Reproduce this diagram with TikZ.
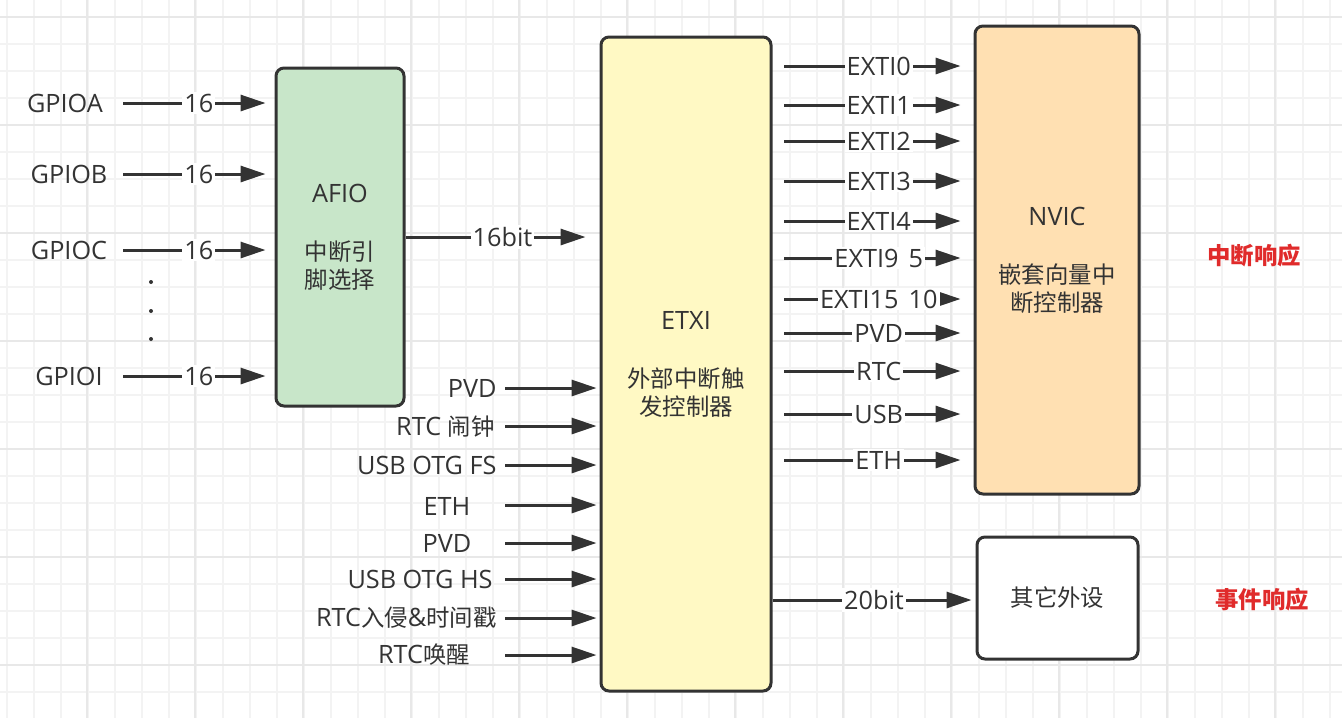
\documentclass[tikz,border=0pt]{standalone}
\usepackage{fontspec}
\setmainfont{Open Sans}[Scale=1.08]
\newfontfamily\cjk{Noto Sans CJK SC}
\usetikzlibrary{arrows.meta, positioning, calc}
\definecolor{gridminor}{RGB}{243,243,243}
\definecolor{gridmajor}{RGB}{232,232,232}
\definecolor{inkgray}{RGB}{51,51,51}
\definecolor{afiogreen}{RGB}{200,230,201}
\definecolor{extiyellow}{RGB}{255,249,196}
\definecolor{nvicorange}{RGB}{255,224,178}
\definecolor{respred}{RGB}{224,43,43}

\begin{document}
\begin{tikzpicture}[x=0.5pt, y=-0.5pt, inkgray,
    font=\fontsize{11.7}{14}\selectfont,
    box/.style={draw=inkgray, line width=1.5pt, rounded corners=4pt,
                align=center, inner sep=0pt},
    sig/.style={draw=inkgray, line width=1.5pt,
                -{Triangle[length=12.5pt, width=8pt]}},
    lbl/.style={fill=white, inner sep=1pt},
    txt/.style={inner sep=0pt}]
  % background grid
  \fill[white] (0,0) rectangle (1342,718);
  \useasboundingbox (0,0) rectangle (1342,718);
  \foreach \gx in {0,...,49}
    \draw[gridminor, line width=0.9pt] ({6.7+27*\gx},0) -- ++(0,718);
  \foreach \gy in {0,...,25}
    \draw[gridminor, line width=0.9pt] (0,{17+27*\gy}) -- ++(1342,0);
  \foreach \gx in {0,...,11}
    \draw[gridmajor, line width=0.9pt] ({87+108*\gx},0) -- ++(0,718);
  \foreach \gy in {0,...,6}
    \draw[gridmajor, line width=0.9pt] (0,{17+108*\gy}) -- ++(1342,0);

  % blocks
  \node[box, fill=afiogreen, minimum width=64pt, minimum height=169pt]
    (afio) at (340,237) {AFIO\\[15pt]{\cjk 中断引}\\{\cjk 脚选择}};
  \node[box, fill=extiyellow, minimum width=85pt, minimum height=327pt]
    (etxi) at (686,364) {ETXI\\[15pt]{\cjk 外部中断触}\\{\cjk 发控制器}};
  \node[box, fill=nvicorange, minimum width=82pt, minimum height=234pt]
    (nvic) at (1057,260) {NVIC\\[15pt]{\cjk 嵌套向量中}\\{\cjk 断控制器}};
  \node[box, fill=white, minimum width=80.5pt, minimum height=61pt]
    (other) at (1057.5,598) {\cjk 其它外设};
  \node[txt, text=respred] (irq) at (1254,256) {\cjk\bfseries 中断响应};
  \node[txt, text=respred] (evt) at (1262,600) {\cjk\bfseries 事件响应};

  % GPIO ports into AFIO
  \foreach \port/\py/\tx in {A/103/65, B/174/69, C/250/69, I/376/69} {
    \node[txt] (gpio\port) at (\tx,\py) {GPIO\port};
    \coordinate (s\port) at (123,\py);
    \draw[sig, shorten >=4.5pt] (s\port) -- node[lbl]{16} (s\port -| afio.west);
  }
  \foreach \dy in {282,311,339}
    \fill (151,\dy) circle (1pt);
  \draw[sig, shorten >=7pt] (afio.east) -- node[lbl]{16bit} (afio.east -| etxi.west);

  % other sources into ETXI
  \node[txt, anchor=east] (srcA) at (497,388) {PVD};
  \node[txt, anchor=east] (srcB) at (495,427) {RTC {\cjk 闹钟}};
  \node[txt, anchor=east] (srcC) at (497,465) {USB OTG FS};
  \node[txt] (srcD) at (447,506) {ETH};
  \node[txt] (srcE) at (447,543) {PVD};
  \node[txt, anchor=east] (srcF) at (493,579) {USB OTG HS};
  \node[txt, anchor=east] (srcG) at (497,618) {RTC{\cjk 入侵}\&{\cjk 时间戳}};
  \node[txt] (srcH) at (424,655) {RTC{\cjk 唤醒}};
  \foreach \sy [count=\i] in {388,426,465,505,543,579,618,655} {
    \coordinate (in\i) at (505,\sy);
    \draw[sig, shorten >=1.5pt] (in\i) -- (in\i -| etxi.west);
  }

  % ETXI lines into NVIC
  \foreach \lab/\oy [count=\i] in {EXTI0/66, EXTI1/105, EXTI2/141, EXTI3/181,
      EXTI4/221, EXTI9\hspace{5pt}5/258, EXTI15\hspace{5pt}10/299, PVD/333,
      RTC/371, USB/414, ETH/460} {
    \coordinate (out\i) at (784,\oy);
    \draw[sig, shorten >=6.5pt] (out\i) -- node[lbl]{\lab} (out\i -| nvic.west);
  }
  \draw[sig, shorten >=2pt] (etxi.east |- 0,600) -- node[lbl]{20bit} (other.west |- 0,600);
\end{tikzpicture}
\end{document}
